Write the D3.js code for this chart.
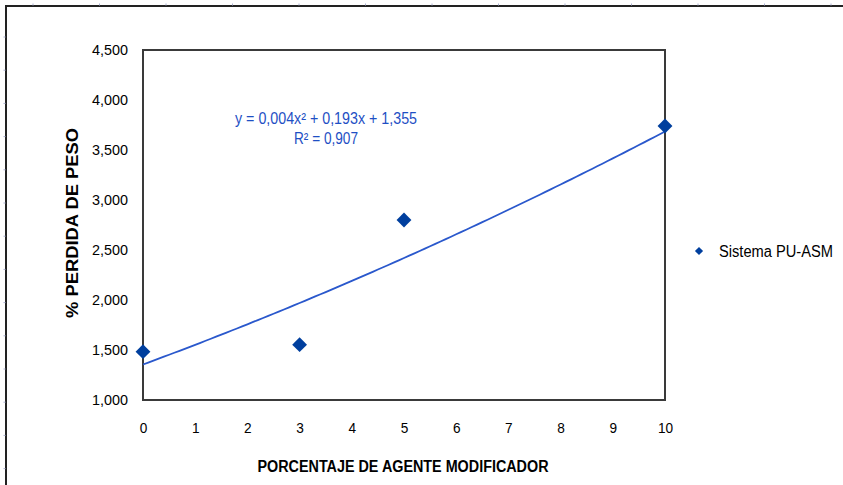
<!DOCTYPE html>
<html>
<head>
<meta charset="utf-8">
<script src="https://cdn.jsdelivr.net/npm/d3@7"></script>
<style>
  html, body { margin: 0; padding: 0; background: #fff; }
  svg { display: block; }
  .narrow { font-family: "Liberation Sans Narrow", "Arial Narrow", "Liberation Sans", sans-serif; }
</style>
</head>
<body>
<svg id="chart" width="843" height="485"></svg>
<script>
// Porcentaje de agente modificador vs. % pérdida de peso
const xValues = [0, 3, 5, 10];
const yValues = [1.483, 1.553, 2.80, 3.74];
const seriesName = "Sistema PU-ASM";

// Polynomial trendline (order 2) coefficients and R²
const trendCoef = [0.004, 0.193, 1.355]; // a x² + b x + c
const trendLabel = "y = 0,004x² + 0,193x + 1,355";
const r2Label = "R² = 0,907";

const xTicks = [0, 1, 2, 3, 4, 5, 6, 7, 8, 9, 10];
const yTicks = [1.0, 1.5, 2.0, 2.5, 3.0, 3.5, 4.0, 4.5];

const xTitle = "PORCENTAJE DE AGENTE MODIFICADOR";
const yTitle = "% PERDIDA DE PESO";

const svg = d3.select("#chart");
const W = 843, H = 485;
const plot = { left: 143, top: 50, right: 665, bottom: 400 };

const markColor = "#003f9e";
const lineColor = "#2a58cc";

// outer chart frame
svg.append("rect")
  .attr("x", 6).attr("y", 6)
  .attr("width", W + 10).attr("height", H + 10)
  .attr("fill", "#fff").attr("stroke", "#222").attr("stroke-width", 2);

// small ruler marks along the frame
const ruler = svg.append("g").attr("stroke", "#aab0d0").attr("stroke-width", 1);
d3.range(33, W, 66.5).forEach(x => {
  ruler.append("line").attr("x1", x).attr("x2", x).attr("y1", 3.5).attr("y2", 5.5);
});
d3.range(37, H, 33.2).forEach(y => {
  ruler.append("line").attr("x1", 3.5).attr("x2", 5.5).attr("y1", y).attr("y2", y);
});

const x = d3.scaleLinear().domain([0, 10]).range([plot.left, plot.right]);
const y = d3.scaleLinear().domain([1.0, 4.5]).range([plot.bottom, plot.top]);

const fmt = v => d3.format(".3f")(v).replace(".", ",");

// y axis labels
const yAxis = d3.axisLeft(y).tickValues(yTicks).tickFormat(fmt).tickSize(0).tickPadding(15);
const gy = svg.append("g").attr("transform", `translate(${plot.left},0)`).call(yAxis);
gy.select(".domain").remove();
gy.selectAll("text")
  .attr("class", "narrow")
  .attr("font-size", 15.5).attr("fill", "#000")
  .attr("textLength", 36).attr("lengthAdjust", "spacingAndGlyphs");

// x axis labels (each tick group is already positioned, so scale around its origin)
const xAxis = d3.axisBottom(x).tickValues(xTicks).tickFormat(d3.format("d")).tickSize(0).tickPadding(22);
const gx = svg.append("g").attr("transform", `translate(0,${plot.bottom})`).call(xAxis);
gx.select(".domain").remove();
gx.selectAll("text")
  .attr("class", "narrow")
  .attr("font-size", 15.5).attr("fill", "#000")
  .attr("transform", "scale(0.88,1)");

// plot frame
svg.append("rect")
  .attr("x", plot.left).attr("y", plot.top)
  .attr("width", plot.right - plot.left).attr("height", plot.bottom - plot.top)
  .attr("fill", "none").attr("stroke", "#3a3a3a").attr("stroke-width", 2);

// trendline
const trend = d3.range(0, 10.0001, 0.1).map(v => [v, trendCoef[0] * v * v + trendCoef[1] * v + trendCoef[2]]);
svg.append("path")
  .datum(trend)
  .attr("d", d3.line().x(d => x(d[0])).y(d => y(d[1])))
  .attr("fill", "none").attr("stroke", lineColor).attr("stroke-width", 1.8);

// data points: square diamonds
const diamond = d3.symbol().type(d3.symbolSquare);
svg.append("g").selectAll("path")
  .data(xValues.map((v, i) => [v, yValues[i]]))
  .join("path")
  .attr("d", diamond.size(110))
  .attr("transform", d => `translate(${x(d[0])},${y(d[1])}) rotate(45)`)
  .attr("fill", markColor);

// trendline equation
const eq = svg.append("g").attr("class", "narrow").attr("fill", "#1e4fc4").attr("font-size", 16).attr("text-anchor", "middle");
eq.append("text").attr("x", 326).attr("y", 124).text(trendLabel)
  .attr("textLength", 182).attr("lengthAdjust", "spacingAndGlyphs");
eq.append("text").attr("x", 326).attr("y", 144).text(r2Label)
  .attr("textLength", 64).attr("lengthAdjust", "spacingAndGlyphs");

// legend
svg.append("path")
  .attr("d", d3.symbol().type(d3.symbolSquare).size(34)())
  .attr("transform", "translate(699,251) rotate(45)")
  .attr("fill", markColor);
svg.append("text")
  .attr("class", "narrow")
  .attr("x", 719).attr("y", 257)
  .attr("font-size", 16).attr("fill", "#000")
  .attr("textLength", 114).attr("lengthAdjust", "spacingAndGlyphs")
  .text(seriesName);

// axis titles
svg.append("text")
  .attr("class", "narrow")
  .attr("x", 403).attr("y", 472)
  .attr("text-anchor", "middle")
  .attr("font-size", 16).attr("font-weight", "bold").attr("fill", "#000")
  .attr("textLength", 291).attr("lengthAdjust", "spacingAndGlyphs")
  .text(xTitle);

svg.append("text")
  .attr("transform", `translate(78,223) rotate(-90)`)
  .attr("text-anchor", "middle")
  .attr("font-family", "'Liberation Sans', Arial, sans-serif")
  .attr("font-size", 16.5).attr("font-weight", "bold").attr("fill", "#000")
  .attr("textLength", 190).attr("lengthAdjust", "spacingAndGlyphs")
  .text(yTitle);
</script>
</body>
</html>
